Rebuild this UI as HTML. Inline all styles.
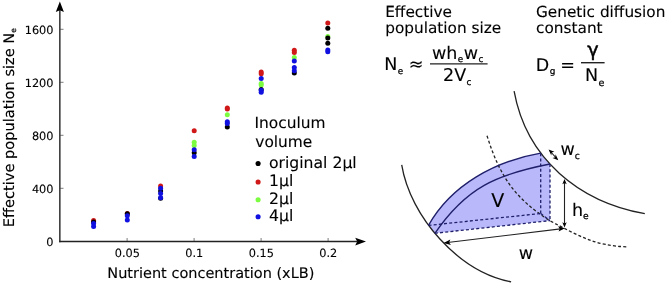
<!DOCTYPE html>
<html><head><meta charset="utf-8"><title>Figure</title>
<style>
html,body{margin:0;padding:0;background:#fff;}
svg{display:block;font-family:"DejaVu Sans","Liberation Sans",sans-serif;fill:#000;}
text{text-rendering:geometricPrecision;filter:grayscale(1);stroke:#000;stroke-width:0.12px;stroke-linejoin:round;}
.tk{font-size:11.3px}
.ax{font-size:14.5px}
.lg{font-size:15.4px}
.tt{font-size:15.3px}
.fm{font-size:17.5px;stroke-width:0.45px}
.sb{font-size:8.9px;stroke-width:0.25px}
.sd{font-size:9.2px;stroke-width:0.25px}
</style></head><body>
<svg width="667" height="284" viewBox="0 0 667 284">
<rect width="667" height="284" fill="#fff"/>
<!-- axes -->
<g stroke="#222" fill="none">
<line x1="59.85" y1="242.2" x2="59.85" y2="9" stroke-width="1.4"/>
<line x1="59.2" y1="241.55" x2="357" y2="241.55" stroke-width="1.4"/>
<g stroke-width="0.7" stroke="#444"><line x1="60" y1="188.3" x2="63.5" y2="188.3"/><line x1="60" y1="135.3" x2="63.5" y2="135.3"/><line x1="60" y1="82.3" x2="63.5" y2="82.3"/><line x1="60" y1="29.3" x2="63.5" y2="29.3"/><line x1="127.1" y1="241" x2="127.1" y2="238"/><line x1="194.1" y1="241" x2="194.1" y2="238"/><line x1="261.1" y1="241" x2="261.1" y2="238"/><line x1="328.1" y1="241" x2="328.1" y2="238"/></g>
</g>
<polygon points="59.85,1.4 55.8,12 59.85,10.2 63.9,12" fill="#000"/>
<polygon points="366,241.6 355.2,237.7 357.2,241.6 355.2,245.5" fill="#000"/>
<g class="tk" text-anchor="end"><text x="53.5" y="245.8">0</text><text x="53.5" y="192.8">400</text><text x="53.5" y="139.8">800</text><text x="53.5" y="86.8">1200</text><text x="53.5" y="33.8">1600</text></g>
<g class="tk" text-anchor="middle"><text x="127.3" y="256.5">0.05</text><text x="194.3" y="256.5">0.1</text><text x="261.3" y="256.5">0.15</text><text x="328.3" y="256.5">0.2</text></g>
<text class="ax" x="107.3" y="277.8">Nutrient concentration (xLB)</text>
<text class="ax" style="font-size:14.6px" transform="translate(13.7,227.2) rotate(-90)">Effective population size N<tspan class="sb" style="font-size:7.5px" dy="1.9">e</tspan></text>
<!-- data -->
<g id="pts">
<circle cx="93.6" cy="220.5" r="2.5" fill="#D01818"/>
<circle cx="127.3" cy="213.5" r="2.5" fill="#D01818"/>
<circle cx="160.6" cy="185.9" r="2.5" fill="#D01818"/>
<circle cx="194.2" cy="130.7" r="2.5" fill="#D01818"/>
<circle cx="227.3" cy="107.9" r="2.5" fill="#D01818"/>
<circle cx="227.3" cy="109.0" r="2.5" fill="#D01818"/>
<circle cx="261.2" cy="71.9" r="2.5" fill="#D01818"/>
<circle cx="261.2" cy="73.8" r="2.5" fill="#D01818"/>
<circle cx="294.3" cy="50.2" r="2.5" fill="#D01818"/>
<circle cx="294.3" cy="52.5" r="2.5" fill="#D01818"/>
<circle cx="327.8" cy="22.9" r="2.5" fill="#D01818"/>
<circle cx="194.2" cy="142.2" r="2.5" fill="#7CFC40"/>
<circle cx="194.2" cy="145.4" r="2.5" fill="#7CFC40"/>
<circle cx="227.3" cy="114.8" r="2.5" fill="#7CFC40"/>
<circle cx="261.2" cy="83.6" r="2.5" fill="#7CFC40"/>
<circle cx="261.2" cy="85.0" r="2.5" fill="#7CFC40"/>
<circle cx="294.3" cy="57.5" r="2.5" fill="#7CFC40"/>
<circle cx="327.8" cy="36.4" r="2.5" fill="#7CFC40"/>
<circle cx="93.6" cy="222.0" r="2.5" fill="#000"/>
<circle cx="127.3" cy="213.7" r="2.5" fill="#000"/>
<circle cx="160.6" cy="191.0" r="2.5" fill="#000"/>
<circle cx="160.6" cy="198.2" r="2.5" fill="#000"/>
<circle cx="194.2" cy="152.8" r="2.5" fill="#000"/>
<circle cx="227.3" cy="126.9" r="2.5" fill="#000"/>
<circle cx="261.2" cy="89.6" r="2.5" fill="#000"/>
<circle cx="294.3" cy="72.9" r="2.5" fill="#000"/>
<circle cx="327.8" cy="28.3" r="2.5" fill="#000"/>
<circle cx="327.8" cy="38.0" r="2.5" fill="#000"/>
<circle cx="327.8" cy="43.2" r="2.5" fill="#000"/>
<circle cx="93.6" cy="223.6" r="2.5" fill="#1010E0"/>
<circle cx="93.6" cy="226.4" r="2.5" fill="#1010E0"/>
<circle cx="127.3" cy="215.8" r="2.5" fill="#1010E0"/>
<circle cx="127.3" cy="220.0" r="2.5" fill="#1010E0"/>
<circle cx="160.6" cy="188.3" r="2.5" fill="#1010E0"/>
<circle cx="160.6" cy="193.6" r="2.5" fill="#1010E0"/>
<circle cx="160.6" cy="197.8" r="2.5" fill="#1010E0"/>
<circle cx="194.2" cy="149.8" r="2.5" fill="#1010E0"/>
<circle cx="194.2" cy="156.4" r="2.5" fill="#1010E0"/>
<circle cx="227.3" cy="121.7" r="2.5" fill="#1010E0"/>
<circle cx="227.3" cy="123.4" r="2.5" fill="#1010E0"/>
<circle cx="261.2" cy="78.6" r="2.5" fill="#1010E0"/>
<circle cx="261.2" cy="90.3" r="2.5" fill="#1010E0"/>
<circle cx="261.2" cy="92.3" r="2.5" fill="#1010E0"/>
<circle cx="294.3" cy="61.0" r="2.5" fill="#1010E0"/>
<circle cx="294.3" cy="67.5" r="2.5" fill="#1010E0"/>
<circle cx="294.3" cy="70.8" r="2.5" fill="#1010E0"/>
<circle cx="327.8" cy="50.1" r="2.5" fill="#1010E0"/>
<circle cx="327.8" cy="51.7" r="2.5" fill="#1010E0"/>
</g>
<!-- legend -->
<g class="lg">
<text transform="translate(254.5,127.7) scale(1,1)">Inoculum</text>
<text transform="translate(255.3,146.5) scale(1,1)">volume</text>
<g style="font-size:15.65px"><text transform="translate(269,168.1) scale(1,1)">original 2µl</text>
<text transform="translate(269,186) scale(1,1)">1µl</text>
<text transform="translate(269,204.3) scale(1,1)">2µl</text>
<text transform="translate(269,221.4) scale(1,1)">4µl</text></g>
</g>
<circle cx="258.1" cy="163.5" r="2.55" fill="#000"/>
<circle cx="258.1" cy="182" r="2.55" fill="#D01818"/>
<circle cx="258.1" cy="199.7" r="2.55" fill="#7CFC40"/>
<circle cx="258.1" cy="216.8" r="2.55" fill="#1010E0"/>
<!-- right titles -->
<g class="tt">
<text transform="translate(385.2,17) scale(1,1)">Effective</text>
<text transform="translate(385.2,33.1) scale(1,1)">population size</text>
<text transform="translate(536,17) scale(1,1)">Genetic diffusion</text>
<text transform="translate(536.1,33.1) scale(1,1)">constant</text>
</g>
<!-- formula 1 -->
<g class="fm">
<text x="384.2" y="70.3">N<tspan class="sb" dy="3.2" dx="0.5">e</tspan></text>
<text x="408.8" y="69.7">≈</text>
<text x="432" y="58.9">wh<tspan class="sb" dy="2.7" dx="0.4">e</tspan><tspan dy="-2.7" dx="0.5">w</tspan><tspan class="sb" dy="2.7" dx="0.4">c</tspan></text>
<text x="443" y="80.6">2V<tspan class="sb" dy="3.9" dx="0.3">c</tspan></text>
<text x="535.7" y="71">D<tspan class="sb" dy="3.2" dx="0.5">g</tspan></text>
<text x="560.2" y="71">=</text>
<text x="587.3" y="55.7" style="font-size:19.3px;stroke-width:0.45px">γ</text>
<text x="585.1" y="81.4">N<tspan class="sb" style="font-size:9.6px" dy="4.2" dx="0.4">e</tspan></text>
</g>
<line x1="430" y1="63.9" x2="487.6" y2="63.9" stroke="#222" stroke-width="1.4"/>
<line x1="581" y1="62.7" x2="604.6" y2="62.7" stroke="#222" stroke-width="1.4"/>
<!-- diagram -->
<path d="M428.5,225.4 C451.3,184.6 495.8,160.9 540.7,153.2 L550,164 L550,220.6 L434.9,233.3 L431.5,229.5 Z" fill="#b8b8fa" stroke="none"/>
<g fill="none" stroke="#222" stroke-width="1.3">
<path d="M514.1,91.2 C526.4,158.9 579.2,202.0 644.8,213.7"/>
<path d="M401.7,164.9 C410.2,216.7 458.6,271.8 511.1,281.9"/>
<path d="M487.0,135.7 C499.6,176.0 515.0,198.8 550.0,220.8 C578.1,235.6 594.6,245.9 628.3,246.9" stroke-dasharray="3,2.2" stroke-width="1.3"/>
</g>
<g fill="none" stroke="#1f1f6b" stroke-width="1.35">
<path d="M428.5,225.4 C451.3,184.6 495.8,160.9 540.7,153.2"/>
<path d="M434.9,233.3 C466.3,187.3 496.6,174.4 550.0,164.0"/>
<g stroke-dasharray="3,2.2" stroke-width="1.3">
<line x1="428.5" y1="225.4" x2="540.7" y2="213.5"/>
<line x1="434.9" y1="233.3" x2="550" y2="220.6"/>
<line x1="540.7" y1="153.2" x2="540.7" y2="213.5"/>
<line x1="550" y1="164" x2="550" y2="220.6"/>
<line x1="540.7" y1="213.5" x2="550" y2="220.6"/>
</g>
</g>
<!-- arrows -->
<g stroke="#222" stroke-width="1.1" fill="none">
<line x1="564.5" y1="181" x2="564.5" y2="225"/>
<line x1="445.5" y1="242.8" x2="562.5" y2="228.6"/>
<line x1="550" y1="151" x2="557" y2="158.8"/>
</g>
<g fill="#000">
<polygon points="564.5,178.9 562.3,184.2 564.5,183 566.7,184.2"/>
<polygon points="564.5,227.6 562.3,222.3 564.5,223.5 566.7,222.3"/>
<polygon points="443.6,243.1 450.3,239.6 449.1,242.4 450.9,245.1"/>
<polygon points="564.9,228.2 558.6,231.6 559.7,228.8 558,226.3"/>
<polygon points="548.6,149.4 554.4,151.8 551.6,152.5 551.3,155.4"/>
<polygon points="558.3,160.3 552.5,157.9 555.3,157.2 555.6,154.3"/>
</g>
<g class="fm">
<text x="491.3" y="206.7" style="font-size:19px">V</text>
<text x="572" y="215.6">h<tspan class="sd" dy="3.5">e</tspan></text>
<text x="560.4" y="155.3">w<tspan class="sd" dy="3.2">c</tspan></text>
<text x="518.7" y="258.6">w</text>
</g>
</svg>
</body></html>
